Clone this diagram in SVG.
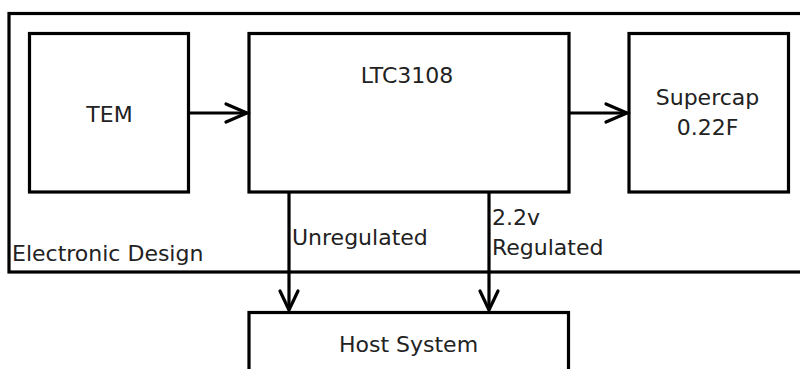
<svg xmlns="http://www.w3.org/2000/svg" width="800" height="369" viewBox="0 0 800 369">
<defs>
<style>
.box{fill:#fff;stroke:#000;stroke-width:3.2}
.frame{fill:none;stroke:#000;stroke-width:3.2}
.ln{fill:none;stroke:#000;stroke-width:3.2}
.hd{fill:none;stroke:#000;stroke-width:3.2;stroke-linecap:round;stroke-linejoin:miter}
text{font-family:"DejaVu Sans","Liberation Sans",sans-serif;font-size:22px;fill:#222}
.c{text-anchor:middle}
</style>
</defs>
<rect width="800" height="369" fill="#fff"/>
<g id="electronic-design">
<rect class="frame" x="9" y="13.5" width="810" height="258.5"/>
<text x="12" y="261">Electronic Design</text>
</g>
<g id="tem">
<rect class="box" x="29.5" y="33.5" width="159" height="158.5"/>
<text class="c" x="109.5" y="122">TEM</text>
</g>
<g id="ltc3108">
<rect class="box" x="249" y="33.5" width="320" height="158.5"/>
<text class="c" x="407" y="83">LTC3108</text>
</g>
<g id="supercap">
<rect class="box" x="629" y="33.5" width="159.5" height="158.5"/>
<text class="c" x="707.5" y="105">Supercap</text>
<text class="c" x="707.5" y="135">0.22F</text>
</g>
<g id="host-system">
<rect class="box" x="249" y="312.5" width="319.5" height="80"/>
<text class="c" x="408.5" y="352">Host System</text>
</g>
<g id="connectors">
<line class="ln" x1="188.5" y1="113" x2="247" y2="113"/>
<polyline class="hd" points="226,104 247,113 226,122"/>
<line class="ln" x1="569" y1="113" x2="627" y2="113"/>
<polyline class="hd" points="606,104 627,113 606,122"/>
<line class="ln" x1="289" y1="192" x2="289" y2="310"/>
<polyline class="hd" points="280,291 289,310 298,291"/>
<line class="ln" x1="489" y1="192" x2="489" y2="310"/>
<polyline class="hd" points="480,291 489,310 498,291"/>
<text x="292" y="245">Unregulated</text>
<text x="492" y="225">2.2v</text>
<text x="492" y="255">Regulated</text>
</g>
</svg>
